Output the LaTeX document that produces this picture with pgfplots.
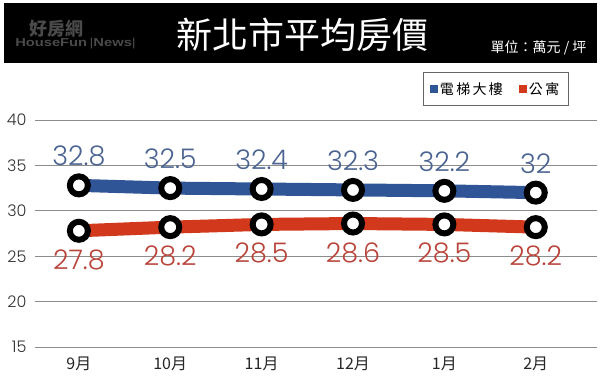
\documentclass[border=0pt]{standalone}
\usepackage{pgfplots}
\pgfplotsset{compat=1.18}
\usepackage{fontspec}
\setmainfont{Poppins}[UprightFont=* Light]
\newfontfamily\cjk{Noto Sans CJK TC}
\newfontfamily\arial{Liberation Sans}
\definecolor{lineblue}{HTML}{2F5597}
\definecolor{linered}{HTML}{D2381C}
\definecolor{lblblue}{HTML}{4A6390}
\definecolor{lblred}{HTML}{B8443A}
\definecolor{logogray}{HTML}{4A4A4A}
\definecolor{gridgray}{HTML}{8C8C8C}
\begin{document}
\begin{tikzpicture}[x=1pt,y=1pt]
\fill[white] (0,0) rectangle (600,378);
\fill[black] (4,315) rectangle (597,375);
\node[text=white, font=\cjk\fontsize{36}{36}\selectfont] at (302,343) {新北市平均房價};
\node[text=white, font=\cjk\fontsize{14}{14}\selectfont, anchor=east] at (590,330) {單位：萬元 / 坪};
\node[text=logogray, font=\cjk\bfseries\fontsize{18}{18}\selectfont] at (56,349) {好房網};
\node[text=logogray, font=\arial\bfseries\fontsize{11.5}{11.5}\selectfont, anchor=west, inner sep=0pt, xscale=1.28] at (15,334) {HouseFun\,{\mdseries|}News{\mdseries|}};
\begin{axis}[
  at={(35pt,31pt)}, anchor=south west, scale only axis,
  width=562pt, height=227pt,
  xmin=-0.48, xmax=5.67, ymin=15, ymax=40,
  ytick={15,20,25,30,35,40},
  xtick={0,1,2,3,4,5},
  xticklabels={9月,10月,11月,12月,1月,2月},
  axis line style={draw=none},
  major tick length=0pt,
  ymajorgrids,
  grid style={gridgray, line width=1pt},
  clip=false,
  /pgf/number format/assume math mode=true,
  yticklabel style={font=\fontsize{16}{16}\selectfont, text=black!80, xshift=-5pt},
  xticklabel style={font=\cjk\fontsize{16}{16}\selectfont, text=black!85, yshift=-6pt},
  legend columns=2,
  legend style={at={(0.69,1.211)}, anchor=north west, draw=black!60,
    font=\cjk\fontsize{14}{14}\selectfont, inner xsep=7pt, inner ysep=8pt,
    /tikz/every even column/.append style={column sep=14pt}},
  legend image code/.code={\fill[#1, draw=none, line width=0pt] (2pt,-4pt) rectangle (10pt,4pt);},
]
\addplot[color=lineblue, line width=13pt, mark=*, mark size=9pt,
  mark options={fill=white, draw=black, line width=6pt},
  nodes near coords,
  every node near coord/.append style={anchor=center, yshift=29pt, text=lblblue, font=\fontsize{27}{27}\selectfont}]
  coordinates {(0,32.8)(1,32.5)(2,32.4)(3,32.3)(4,32.2)(5,32)};
\addlegendentry{電\,梯\,大\,樓}
\addplot[color=linered, line width=13pt, mark=*, mark size=9pt,
  mark options={fill=white, draw=black, line width=6pt},
  nodes near coords,
  every node near coord/.append style={anchor=center, yshift=-29pt, text=lblred, font=\fontsize{27}{27}\selectfont}]
  coordinates {(0,27.8)(1,28.2)(2,28.5)(3,28.6)(4,28.5)(5,28.2)};
\addlegendentry{公\,寓}
\end{axis}
\end{tikzpicture}
\end{document}
